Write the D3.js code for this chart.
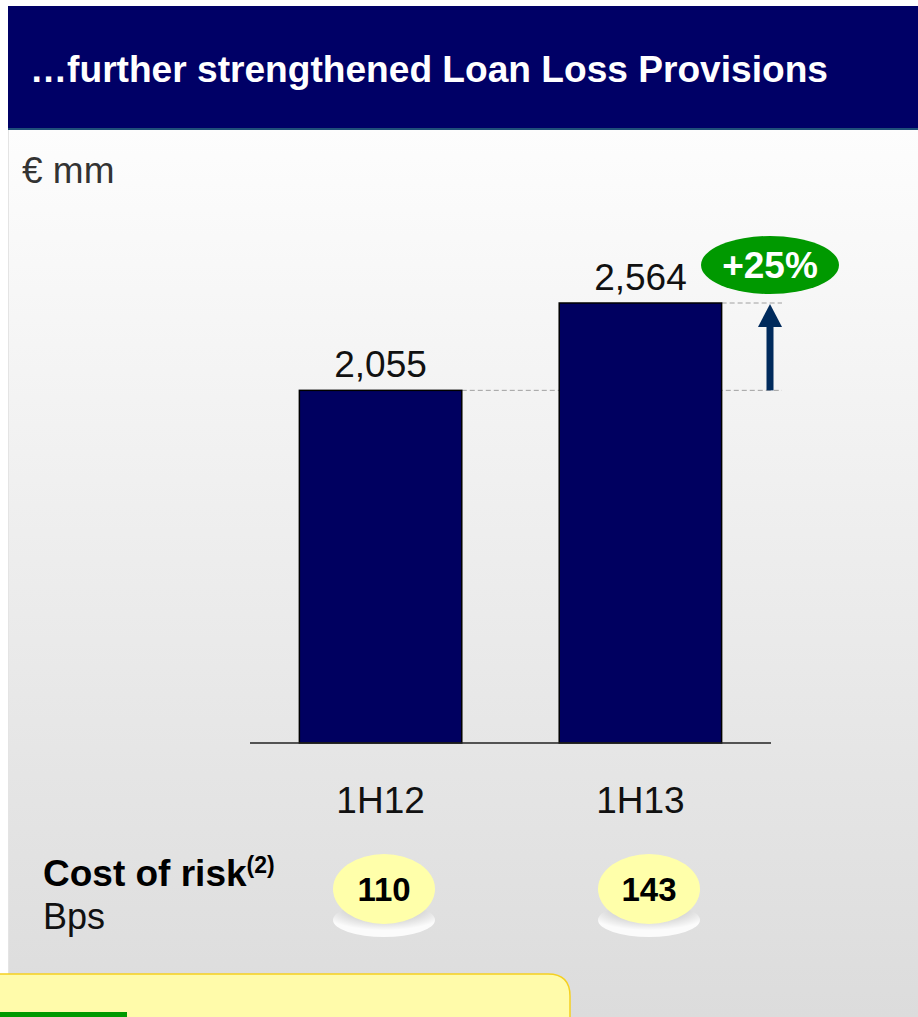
<!DOCTYPE html>
<html>
<head>
<meta charset="utf-8">
<script src="https://cdn.jsdelivr.net/npm/d3@7"></script>
<style>
  html, body { margin: 0; padding: 0; background: #ffffff; }
  svg { display: block; font-family: "Liberation Sans", Arial, sans-serif; }
</style>
</head>
<body>
<svg id="chart" width="918" height="1017"></svg>
<script>
// Loan loss provisions, € mm
const periods = ["1H12", "1H13"];
const provisions = [2055, 2564];
const valueLabels = ["2,055", "2,564"];
const growthLabel = "+25%";
// Cost of risk, bps
const costOfRisk = [110, 143];

const W = 918, H = 1017;
const svg = d3.select("#chart");
const defs = svg.append("defs");

// Panel background gradient
const bg = defs.append("linearGradient").attr("id", "panelBg")
  .attr("x1", 0).attr("y1", 0).attr("x2", 0).attr("y2", 1);
bg.append("stop").attr("offset", "0%").attr("stop-color", "#fdfdfd");
bg.append("stop").attr("offset", "100%").attr("stop-color", "#dcdcdc");

// Shadow under the cost-of-risk bubbles
const sh = defs.append("radialGradient").attr("id", "bubbleShadow")
  .attr("cx", "50%").attr("cy", "15%").attr("r", "65%");
sh.append("stop").attr("offset", "0%").attr("stop-color", "#707070");
sh.append("stop").attr("offset", "40%").attr("stop-color", "#c8c8c8");
sh.append("stop").attr("offset", "100%").attr("stop-color", "#fbfbfb");

svg.append("rect").attr("x", 0).attr("y", 0).attr("width", W).attr("height", H).attr("fill", "#ffffff");
svg.append("rect").attr("x", 8).attr("y", 129).attr("width", W - 8).attr("height", H - 129)
  .attr("fill", "url(#panelBg)");
svg.append("line").attr("x1", 8.5).attr("x2", 8.5).attr("y1", 129).attr("y2", H)
  .attr("stroke", "#e4e4e4").attr("stroke-width", 1);

// Header band
svg.append("rect").attr("x", 8).attr("y", 6).attr("width", W - 8).attr("height", 123).attr("fill", "#000066");
svg.append("line").attr("x1", 8).attr("x2", W).attr("y1", 129).attr("y2", 129)
  .attr("stroke", "#1f4f7a").attr("stroke-width", 2);
svg.append("text").attr("x", 30).attr("y", 82)
  .attr("fill", "#ffffff").attr("font-weight", "bold").attr("font-size", 36)
  .attr("textLength", 798).attr("lengthAdjust", "spacingAndGlyphs")
  .text("…further strengthened Loan Loss Provisions");

svg.append("text").attr("x", 22).attr("y", 183)
  .attr("fill", "#333333").attr("font-size", 37).text("€ mm");

// Scales
const x = d3.scaleBand().domain(periods).range([250, 771]).paddingInner(0.375).paddingOuter(0.19);
const y = d3.scaleLinear().domain([0, d3.max(provisions)]).range([743, 303]);
const bubbleX = d3.scalePoint().domain(periods).range([384, 649]);
const data = periods.map((p, i) => ({ p, v: provisions[i], label: valueLabels[i], cor: costOfRisk[i] }));

// Dashed reference lines from each bar top
const arrowX = 770;
svg.selectAll("line.ref").data(data).join("line").attr("class", "ref")
  .attr("x1", d => x(d.p) + x.bandwidth()).attr("x2", arrowX + 12)
  .attr("y1", d => y(d.v)).attr("y2", d => y(d.v))
  .attr("stroke", "#a0a0a0").attr("stroke-width", 1).attr("stroke-dasharray", "5,3");

// Bars
svg.selectAll("rect.bar").data(data).join("rect").attr("class", "bar")
  .attr("x", d => x(d.p)).attr("width", x.bandwidth())
  .attr("y", d => y(d.v)).attr("height", d => y(0) - y(d.v))
  .attr("fill", "#000060").attr("stroke", "#000000").attr("stroke-width", 1.5);

// Baseline
svg.append("line").attr("x1", 250).attr("x2", 771).attr("y1", y(0)).attr("y2", y(0))
  .attr("stroke", "#222222").attr("stroke-width", 1.5);

// Value labels
svg.selectAll("text.val").data(data).join("text").attr("class", "val")
  .attr("x", d => x(d.p) + x.bandwidth() / 2).attr("y", d => y(d.v) - 13)
  .attr("text-anchor", "middle").attr("font-size", 37).attr("fill", "#111111")
  .text(d => d.label);

// Category labels
svg.selectAll("text.cat").data(data).join("text").attr("class", "cat")
  .attr("x", d => x(d.p) + x.bandwidth() / 2).attr("y", 813)
  .attr("text-anchor", "middle").attr("font-size", 37).attr("fill", "#111111")
  .text(d => d.p);

// Growth arrow between the two bar tops
const yLow = y(provisions[0]), yHigh = y(provisions[1]);
svg.append("rect").attr("x", arrowX - 3.5).attr("y", yHigh + 22).attr("width", 7).attr("height", yLow - yHigh - 22)
  .attr("fill", "#002a5c");
svg.append("path")
  .attr("d", `M${arrowX},${yHigh + 1} L${arrowX + 12},${yHigh + 24} L${arrowX - 12},${yHigh + 24} Z`)
  .attr("fill", "#002a5c");

// Growth badge
svg.append("ellipse").attr("cx", 770).attr("cy", 265).attr("rx", 69).attr("ry", 29).attr("fill", "#009900");
svg.append("text").attr("x", 770).attr("y", 278).attr("text-anchor", "middle")
  .attr("fill", "#ffffff").attr("font-weight", "bold").attr("font-size", 37).text(growthLabel);

// Cost of risk row
const cor = svg.append("text").attr("x", 43).attr("y", 886).attr("font-size", 37)
  .attr("font-weight", "bold").attr("fill", "#000000");
cor.append("tspan").text("Cost of risk");
cor.append("tspan").attr("font-size", 23).attr("dy", -13).text("(2)");
svg.append("text").attr("x", 43).attr("y", 929).attr("font-size", 36).attr("fill", "#111111").text("Bps");

svg.selectAll("ellipse.shadow").data(data).join("ellipse").attr("class", "shadow")
  .attr("cx", d => bubbleX(d.p)).attr("cy", 920).attr("rx", 51).attr("ry", 17)
  .attr("fill", "url(#bubbleShadow)");
svg.selectAll("ellipse.bubble").data(data).join("ellipse").attr("class", "bubble")
  .attr("cx", d => bubbleX(d.p)).attr("cy", 889).attr("rx", 51).attr("ry", 35)
  .attr("fill", "#ffffaa");
svg.selectAll("text.cor").data(data).join("text").attr("class", "cor")
  .attr("x", d => bubbleX(d.p)).attr("y", 901).attr("text-anchor", "middle")
  .attr("font-size", 33).attr("font-weight", "bold").attr("fill", "#000000")
  .text(d => d.cor);

// Bottom callout box
const bx = -2, by = 974, bw = 572, r = 22;
svg.append("path")
  .attr("d", `M${bx},${H + 2} L${bx},${by} L${bx + bw - r},${by} Q${bx + bw},${by} ${bx + bw},${by + r} L${bx + bw},${H + 2}`)
  .attr("fill", "#fffbaa").attr("stroke", "#f5d020").attr("stroke-width", 1.5);
svg.append("rect").attr("x", 0).attr("y", 1012).attr("width", 127).attr("height", 5).attr("fill", "#009900");
</script>
</body>
</html>
